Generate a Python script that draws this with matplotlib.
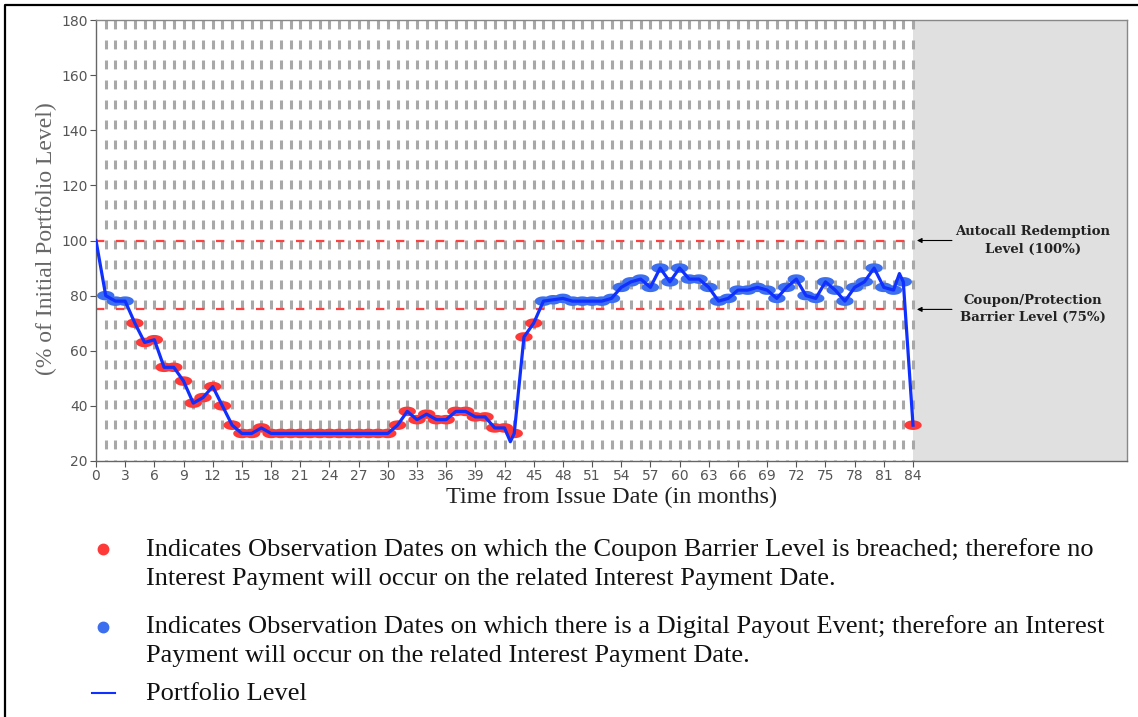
import numpy as np
import matplotlib
matplotlib.use("Agg")
import matplotlib.pyplot as plt
from matplotlib.lines import Line2D

plt.rcParams['lines.scale_dashes'] = False

# observation months and portfolio level (% of initial)
months = list(range(1, 85))
levels = [80, 78, 78, 70, 63, 64, 54, 54, 49, 41,
          43, 47, 40, 33, 30, 30, 32, 30, 30, 30,
          30, 30, 30, 30, 30, 30, 30, 30, 30, 30,
          33, 38, 35, 37, 35, 35, 38, 38, 36, 36,
          32, 32, 30, 65, 70, 78, 78.5, 79, 78, 78,
          78, 78, 79, 83, 85, 86, 83, 90, 85, 90,
          86, 86, 83, 78, 79, 82, 82, 83, 82, 79,
          83, 86, 80, 79, 85, 82, 78, 83, 85, 90,
          83, 82, 85, 33]

# the level line also starts at issue (100) and has a couple of dips/peaks between dates
start_month, start_level = 0, 100
extra_x = [42.6, 82.6]
extra_y = [27, 88]

coupon_barrier = 75
autocall_level = 100
maturity = 84

xticks = list(range(0, 85, 3))
yticks = list(range(20, 181, 20))

RED = '#ff3838'
BLUE = '#3c6ef0'
LINE = '#1030ff'

fig = plt.figure(figsize=(11.38, 7.17), dpi=100)
ax = fig.add_axes([96 / 1138, 1 - 461 / 717, 1031 / 1138, 441 / 717])

ax.set_xlim(0, 106)
ax.set_ylim(20, 180)

# shaded area after maturity
ax.axvspan(maturity, 106, color='#e0e0e0', zorder=0, lw=0)

# dashed vertical lines at every observation date, drawn top->bottom
ax.vlines(months, 180, 20, colors='#a8a8a8', linewidth=2.2,
          linestyles=(0, (6.4, 8.0)), zorder=1)

# barrier levels
for lvl in (autocall_level, coupon_barrier):
    ax.plot([0, maturity], [lvl, lvl], color='#ff4040', lw=1.6,
            dashes=(6.0, 8.4), zorder=2)

# observation markers (wide ellipses)
t = np.linspace(0, 2 * np.pi, 60)
ell = np.column_stack([np.cos(t), 0.55 * np.sin(t)])
colors = [RED if v < coupon_barrier else BLUE for v in levels]
ax.scatter(months, levels, marker=ell, s=12.5 ** 2, c=colors, linewidths=0, zorder=3)

# portfolio level line
pts = sorted(zip([start_month] + months + extra_x, [start_level] + levels + extra_y))
ax.plot([p[0] for p in pts], [p[1] for p in pts], color=LINE, lw=2.3,
        solid_joinstyle='round', zorder=4)

ax.set_xticks(xticks)
ax.set_yticks(yticks)
ax.tick_params(labelsize=10, colors='#555555', length=4, width=0.8, pad=2)
for s in ax.spines.values():
    s.set_color('#888888')
    s.set_linewidth(1.0)
ax.spines['left'].set_color('#666666')
ax.spines['bottom'].set_color('#666666')

ax.set_xlabel('Time from Issue Date (in months)', family='Liberation Serif',
              fontsize=17.5, color='#222222', va='center')
ax.xaxis.set_label_coords(0.5, -0.083)
ax.set_ylabel('(% of Initial Portfolio Level)', family='Liberation Serif',
              fontsize=17, color='#666666', va='center')
ax.yaxis.set_label_coords(-0.0485, 0.505)

# right-hand annotations
notes = [(autocall_level, 'Autocall Redemption\nLevel (100%)'),
         (coupon_barrier, 'Coupon/Protection\nBarrier Level (75%)')]
for lvl, txt in notes:
    ax.annotate('', xy=(84.4, lvl), xytext=(88.0, lvl),
                arrowprops=dict(arrowstyle='-|>', color='black', lw=0.8,
                                mutation_scale=7, shrinkA=0, shrinkB=0),
                annotation_clip=False)
    ax.text(96.3, lvl, txt, ha='center', va='center', family='DejaVu Serif',
            fontweight='bold', fontsize=9.5, color='#222222', linespacing=1.4)

# legend block below the chart
W, H = 1138, 717
legend_text = [
    (550, 'Indicates Observation Dates on which the Coupon Barrier Level is breached; therefore no'),
    (579, 'Interest Payment will occur on the related Interest Payment Date.'),
    (627, 'Indicates Observation Dates on which there is a Digital Payout Event; therefore an Interest'),
    (656, 'Payment will occur on the related Interest Payment Date.'),
    (694, 'Portfolio Level'),
]
for y, txt in legend_text:
    fig.text(146 / W, 1 - y / H, txt, family='Liberation Serif', fontsize=19,
             color='#111111', ha='left', va='center')

fig.add_artist(Line2D([103 / W], [1 - 549 / H], marker='o', ms=7.5, color=RED, lw=0))
fig.add_artist(Line2D([103 / W], [1 - 627 / H], marker='o', ms=7.5, color=BLUE, lw=0))
fig.add_artist(Line2D([92 / W, 115 / W], [1 - 693 / H, 1 - 693 / H], color=LINE, lw=1.5))

# page border (left and top)
fig.add_artist(Line2D([5 / W, 5 / W, 1.0], [0.0, 1 - 5 / H, 1 - 5 / H],
                      color='black', lw=1.6))

fig.savefig('out.png', dpi=100)
